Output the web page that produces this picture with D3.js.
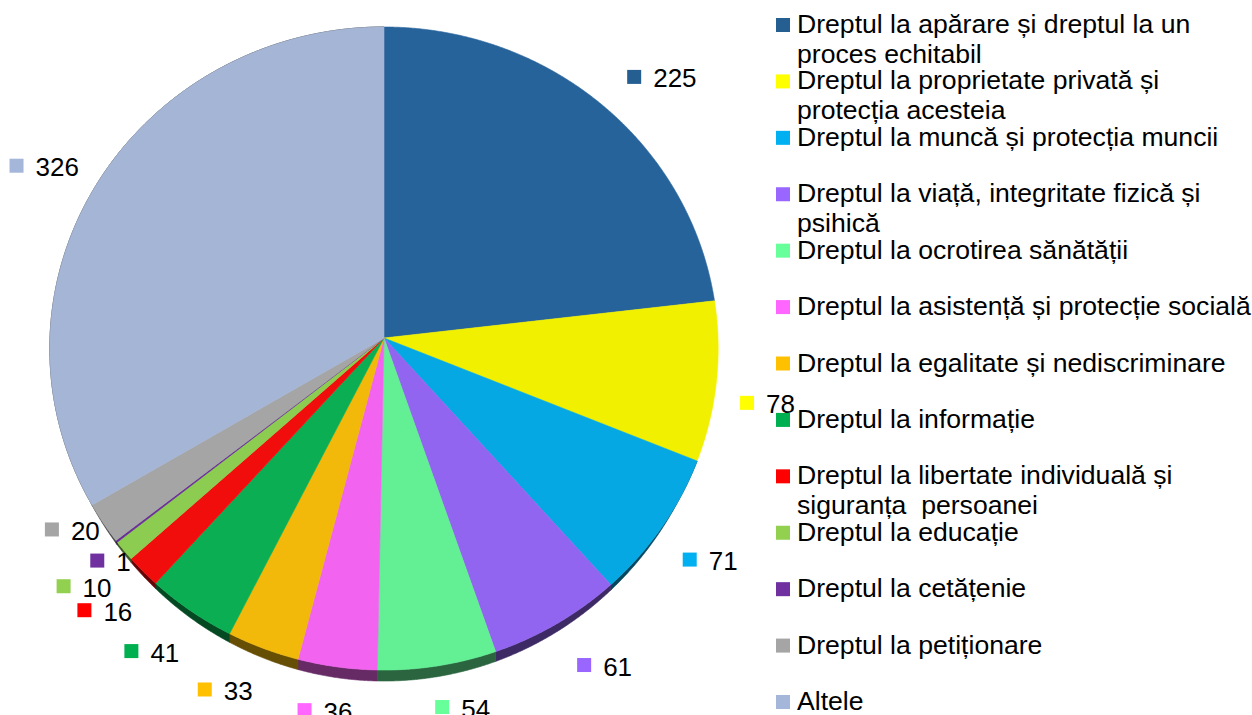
<!DOCTYPE html>
<html><head><meta charset="utf-8">
<script src="https://cdn.jsdelivr.net/npm/d3@7"></script>
<style>
body{margin:0;background:#fff}
svg text{font-family:"Liberation Sans",Arial,sans-serif;white-space:pre;fill:#000}
</style>
</head><body>
<svg id="chart" width="1252" height="715"></svg>
<script>
// ---- data ----
const categories = [
  "Dreptul la apărare și dreptul la un\nproces echitabil",
  "Dreptul la proprietate privată și\nprotecția acesteia",
  "Dreptul la muncă și protecția muncii",
  "Dreptul la viață, integritate fizică și\npsihică",
  "Dreptul la ocrotirea sănătății",
  "Dreptul la asistență și protecție socială",
  "Dreptul la egalitate și nediscriminare",
  "Dreptul la informație",
  "Dreptul la libertate individuală și\nsiguranța  persoanei",
  "Dreptul la educație",
  "Dreptul la cetățenie",
  "Dreptul la petiționare",
  "Altele"
];
const values = [225, 78, 71, 61, 54, 36, 33, 41, 16, 10, 1, 20, 326];

// ---- styles ----
const legendColors = ["#255E91","#FFFF00","#00B0F0","#9966FF","#66FF99","#FF66FF","#FFC000","#00B050","#FF0000","#92D050","#7030A0","#A5A5A5","#A4B7DB"];
const faceColors   = ["#27639b","#f0f000","#05a8e3","#9265f0","#63f095","#f264f0","#f2b90a","#0bae52","#f20d0d","#8ccc50","#6a2e98","#a5a5a5","#a5b5d5"];
// label offsets (px) from the computed outside position, mimicking the spreadsheet's overlap avoidance
const labelNudge = [[29.5,7.3],[1,14.6],[6,3],[21,-3],[17,-10],[-5,-8],[-19,-7],[-9,-2],[-1,3],[0,3],[35,-12],[12,-22],[-12,7]];

const svg = d3.select("#chart");
const cx = 384, cy = 338, a = 334, b = 321.2, k = 0.0327, T = 11, c0 = 0.5;
function proj(theta, s) {
  const u = s * Math.sin(theta), v = s * Math.cos(theta), D = 1 + k * v;
  return [cx + a * u / D, cy - b * v / D];
}
function angles(s0, s1) {
  const n = Math.max(2, Math.ceil((s1 - s0) / 0.004));
  return d3.range(n + 1).map(i => s0 + (s1 - s0) * i / n);
}
function rimDepth(theta) { return T * Math.max(0, Math.min(1, (-Math.cos(theta) - c0) / (1 - c0))); }
function darken(c, f) { const r = d3.rgb(c); return d3.rgb(r.r * f, r.g * f, r.b * f).formatHex(); }

const arcs = d3.pie().sort(null).value(d => d)(values);
const line = d3.line();
const center = proj(0, 0);

// side (rim thickness, visible toward the viewer)
const sideG = svg.append("g");
arcs.forEach((d, i) => {
  const th = angles(d.startAngle, d.endAngle);
  if (d3.max(th, rimDepth) <= 0) return;
  const pts = th.map(t => proj(t, 1));
  const low = th.map((t, j) => [pts[j][0], pts[j][1] + rimDepth(t)]);
  const col = darken(faceColors[i], 0.42);
  sideG.append("path").attr("d", line([...pts, ...low.slice().reverse()]) + "Z")
    .attr("fill", col).attr("stroke", col).attr("stroke-width", 0.6);
});
// top faces
const faceG = svg.append("g");
arcs.forEach((d, i) => {
  const pts = angles(d.startAngle, d.endAngle).map(t => proj(t, 1));
  faceG.append("path").attr("d", line([center, ...pts]) + "Z")
    .attr("fill", faceColors[i]).attr("stroke", faceColors[i]).attr("stroke-width", 0.6);
});

// data labels
const labG = svg.append("g").style("font-size", "26px");
arcs.forEach((d, i) => {
  const mid = (d.startAngle + d.endAngle) / 2;
  const p = proj(mid, 1.15);
  const g = labG.append("g").attr("transform", `translate(${p[0] + labelNudge[i][0]},${p[1] + labelNudge[i][1]})`);
  const t = g.append("text").text(d3.format("d")(values[i]));
  const tw = t.node().getComputedTextLength();
  const bw = 26 + tw;
  t.attr("x", -bw / 2 + 26).attr("y", 10.5);
  g.append("rect").attr("x", -bw / 2).attr("y", -7).attr("width", 14).attr("height", 14).attr("fill", legendColors[i]);
});

// legend
const ly = d3.scaleLinear().domain([0, categories.length - 1]).range([33, 710]);
const legG = svg.append("g").style("font-size", "26.6px");
categories.forEach((c, i) => {
  const y = ly(i);
  legG.append("rect").attr("x", 776).attr("y", y - 15).attr("width", 14).attr("height", 14).attr("fill", legendColors[i]);
  c.split("\n").forEach((ln, j) => {
    legG.append("text").attr("x", 797).attr("y", y + j * 29.5).text(ln);
  });
});
</script>
</body></html>
